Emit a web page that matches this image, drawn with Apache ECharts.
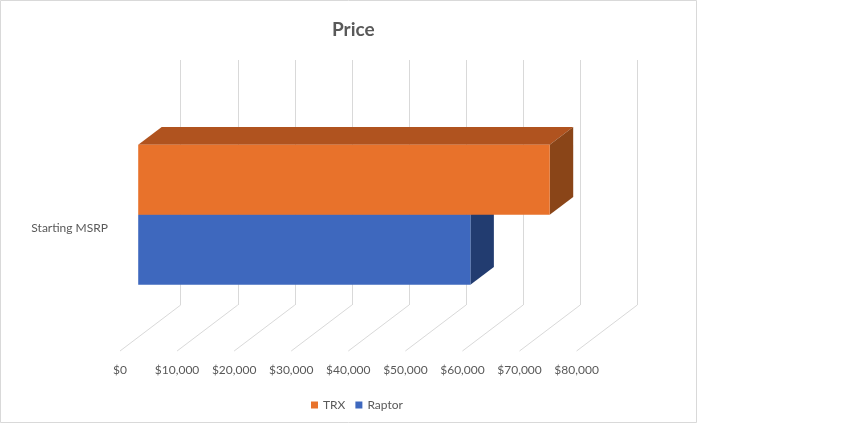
<!DOCTYPE html>
<html>
<head>
<meta charset="utf-8">
<title>Price</title>
<script src="https://cdn.jsdelivr.net/npm/echarts@6/dist/echarts.min.js"></script>
<style>
  html, body { margin: 0; padding: 0; background: #fff; }
  #chart { width: 845px; height: 424px; }
</style>
</head>
<body>
<div id="chart"></div>
<script>
// data
const categories = ['Starting MSRP']
const seriesNames = ['TRX', 'Raptor']
const trxValues = [72100]
const raptorValues = [58200]
const xTicks = [0, 10000, 20000, 30000, 40000, 50000, 60000, 70000, 80000]

// fake 3d: depth vector of the floor, from back wall to front edge
const depth = [-60.7, 46]
const frontFrac = 0.70
const backFrac = 0.313
const barFrac = 0.2857 // bar thickness as part of the category band

const colors = {
  TRX: { front: '#e8722b', top: '#b0531f', side: '#8a4518' },
  Raptor: { front: '#3e68be', top: '#2c4d91', side: '#223c70' }
}

const chart = echarts.init(document.getElementById('chart'))

// one bar drawn as front / top / side faces
const barItem = (name, upper) => (params, api) => {
  let x0 = api.coord([0, api.value(0)])[0]
  let p = api.coord([api.value(1), api.value(0)])
  let x1 = p[0]
  let cy = p[1]
  let h = api.size([0, 1])[1] * barFrac
  let top = upper ? cy - h : cy
  let bottom = upper ? cy : cy + h
  let fx = depth[0] * frontFrac, fy = depth[1] * frontFrac
  let bx = depth[0] * backFrac, by = depth[1] * backFrac
  let c = colors[name]
  return {
    type: 'group',
    children: [
      {
        type: 'polygon',
        shape: { points: [[x0 + fx, top + fy], [x1 + fx, top + fy], [x1 + bx, top + by], [x0 + bx, top + by]] },
        style: { fill: c.top }
      },
      {
        type: 'polygon',
        shape: { points: [[x1 + fx, top + fy], [x1 + bx, top + by], [x1 + bx, bottom + by], [x1 + fx, bottom + fy]] },
        style: { fill: c.side }
      },
      {
        type: 'rect',
        shape: { x: x0 + fx, y: top + fy, width: x1 - x0, height: bottom - top },
        style: { fill: c.front }
      }
    ]
  }
}

// floor lines, from foot of each back gridline towards the viewer
const floorItem = (params, api) => {
  let x = api.coord([api.value(0), 0])[0]
  let y = params.coordSys.y + params.coordSys.height
  return {
    type: 'line',
    shape: { x1: x, y1: y, x2: x + depth[0], y2: y + depth[1] },
    style: { stroke: '#d9d9d9', lineWidth: 1 }
  }
}

const money = v => '$' + v.toLocaleString('en-US')
const textFont = 'Lato, "Open Sans", sans-serif'

chart.setOption({
  backgroundColor: '#fff',
  animation: false,
  title: {
    text: 'Price',
    left: 327,
    top: 15,
    textStyle: { fontFamily: textFont, fontSize: 19, fontWeight: 'bold', color: '#595959' }
  },
  legend: {
    data: seriesNames,
    left: 306,
    top: 394,
    itemWidth: 7,
    itemHeight: 7,
    itemGap: 10,
    icon: 'rect',
    textStyle: { fontFamily: textFont, fontSize: 12, color: '#595959' }
  },
  graphic: [{
    type: 'rect',
    shape: { x: 0.5, y: 0.5, width: 696, height: 422 },
    style: { fill: 'none', stroke: '#d9d9d9', lineWidth: 1 },
    silent: true
  }],
  grid: [
    // back wall
    { left: 180.7, top: 60, width: 456.6, height: 245 },
    // front edge of the floor, only for labels
    { left: 120, top: 106, width: 456.6, height: 245 }
  ],
  xAxis: [
    {
      gridIndex: 0, type: 'value', min: 0, max: 80000, interval: 10000,
      axisLine: { show: false }, axisTick: { show: false }, axisLabel: { show: false },
      splitLine: { show: true, lineStyle: { color: '#d9d9d9', width: 1 } }
    },
    {
      gridIndex: 1, type: 'value', min: 0, max: 80000, interval: 10000,
      axisLine: { show: false }, axisTick: { show: false }, splitLine: { show: false },
      axisLabel: { margin: 13, formatter: money, fontFamily: textFont, fontSize: 12, color: '#595959' }
    }
  ],
  yAxis: [
    {
      gridIndex: 0, type: 'category', data: categories,
      axisLine: { show: false }, axisTick: { show: false }, axisLabel: { show: false }
    },
    {
      gridIndex: 1, type: 'category', data: categories,
      axisLine: { show: false }, axisTick: { show: false },
      axisLabel: { margin: 12, fontFamily: textFont, fontSize: 12, color: '#595959' }
    }
  ],
  series: [
    {
      type: 'custom', name: 'floor', xAxisIndex: 0, yAxisIndex: 0, silent: true,
      renderItem: floorItem,
      data: xTicks.map(v => [v, 0])
    },
    {
      type: 'custom', name: 'Raptor', xAxisIndex: 0, yAxisIndex: 0,
      itemStyle: { color: colors.Raptor.front },
      renderItem: barItem('Raptor', false),
      encode: { x: 1, y: 0 },
      data: categories.map((c, i) => [i, raptorValues[i]])
    },
    {
      type: 'custom', name: 'TRX', xAxisIndex: 0, yAxisIndex: 0,
      itemStyle: { color: colors.TRX.front },
      renderItem: barItem('TRX', true),
      encode: { x: 1, y: 0 },
      data: categories.map((c, i) => [i, trxValues[i]])
    }
  ]
})
</script>
</body>
</html>
